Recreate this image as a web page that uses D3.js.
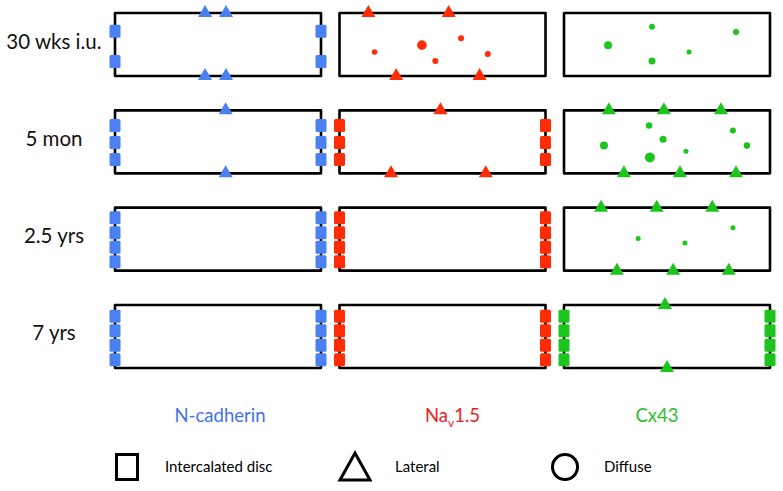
<!DOCTYPE html>
<html>
<head>
<meta charset="utf-8">
<script src="https://cdn.jsdelivr.net/npm/d3@7"></script>
<style>
  html, body { margin: 0; padding: 0; background: #fff; }
  svg { display: block; }
  text { font-family: Lato, "Open Sans", sans-serif; }
</style>
</head>
<body>
<script>
// ---------- data ----------
const ages = ["30 wks i.u.", "5 mon", "2.5 yrs", "7 yrs"];
const proteins = ["N-cadherin", "Nav1.5", "Cx43"];

// Intercalated disc marks (squares at both cell ends): [age, protein, y fraction]
const discMarks = [
  ["30 wks i.u.", "N-cadherin", 0.29], ["30 wks i.u.", "N-cadherin", 0.77],
  ["5 mon", "N-cadherin", 0.24], ["5 mon", "N-cadherin", 0.51], ["5 mon", "N-cadherin", 0.78],
  ["5 mon", "Nav1.5", 0.24], ["5 mon", "Nav1.5", 0.51], ["5 mon", "Nav1.5", 0.78],
  ["2.5 yrs", "N-cadherin", 0.16], ["2.5 yrs", "N-cadherin", 0.40], ["2.5 yrs", "N-cadherin", 0.63], ["2.5 yrs", "N-cadherin", 0.86],
  ["2.5 yrs", "Nav1.5", 0.16], ["2.5 yrs", "Nav1.5", 0.40], ["2.5 yrs", "Nav1.5", 0.63], ["2.5 yrs", "Nav1.5", 0.86],
  ["7 yrs", "N-cadherin", 0.18], ["7 yrs", "N-cadherin", 0.41], ["7 yrs", "N-cadherin", 0.64], ["7 yrs", "N-cadherin", 0.87],
  ["7 yrs", "Nav1.5", 0.18], ["7 yrs", "Nav1.5", 0.41], ["7 yrs", "Nav1.5", 0.64], ["7 yrs", "Nav1.5", 0.87],
  ["7 yrs", "Cx43", 0.18], ["7 yrs", "Cx43", 0.41], ["7 yrs", "Cx43", 0.64], ["7 yrs", "Cx43", 0.87]
];

// Lateral marks (triangles on the long membrane): [age, protein, side, x fraction]
const lateralMarks = [
  ["30 wks i.u.", "N-cadherin", "top", 0.437], ["30 wks i.u.", "N-cadherin", "top", 0.539],
  ["30 wks i.u.", "N-cadherin", "bottom", 0.437], ["30 wks i.u.", "N-cadherin", "bottom", 0.539],
  ["30 wks i.u.", "Nav1.5", "top", 0.14], ["30 wks i.u.", "Nav1.5", "top", 0.53],
  ["30 wks i.u.", "Nav1.5", "bottom", 0.275], ["30 wks i.u.", "Nav1.5", "bottom", 0.68],
  ["5 mon", "N-cadherin", "top", 0.537], ["5 mon", "N-cadherin", "bottom", 0.537],
  ["5 mon", "Nav1.5", "top", 0.49],
  ["5 mon", "Nav1.5", "bottom", 0.25], ["5 mon", "Nav1.5", "bottom", 0.71],
  ["5 mon", "Cx43", "top", 0.218], ["5 mon", "Cx43", "top", 0.485], ["5 mon", "Cx43", "top", 0.762],
  ["5 mon", "Cx43", "bottom", 0.291], ["5 mon", "Cx43", "bottom", 0.563], ["5 mon", "Cx43", "bottom", 0.835],
  ["2.5 yrs", "Cx43", "top", 0.18], ["2.5 yrs", "Cx43", "top", 0.45], ["2.5 yrs", "Cx43", "top", 0.72],
  ["2.5 yrs", "Cx43", "bottom", 0.257], ["2.5 yrs", "Cx43", "bottom", 0.53], ["2.5 yrs", "Cx43", "bottom", 0.80],
  ["7 yrs", "Cx43", "top", 0.49], ["7 yrs", "Cx43", "bottom", 0.50]
];

// Diffuse marks (dots inside the cell): [age, protein, x fraction, y fraction, radius]
const diffuseMarks = [
  ["30 wks i.u.", "Nav1.5", 0.17, 0.62, 2.8], ["30 wks i.u.", "Nav1.5", 0.40, 0.51, 4.8],
  ["30 wks i.u.", "Nav1.5", 0.59, 0.40, 3], ["30 wks i.u.", "Nav1.5", 0.465, 0.76, 3],
  ["30 wks i.u.", "Nav1.5", 0.72, 0.65, 3],
  ["30 wks i.u.", "Cx43", 0.214, 0.51, 4], ["30 wks i.u.", "Cx43", 0.427, 0.22, 3],
  ["30 wks i.u.", "Cx43", 0.427, 0.76, 3.5], ["30 wks i.u.", "Cx43", 0.607, 0.62, 2.5],
  ["30 wks i.u.", "Cx43", 0.835, 0.30, 3],
  ["5 mon", "Cx43", 0.413, 0.24, 3.3], ["5 mon", "Cx43", 0.194, 0.56, 4],
  ["5 mon", "Cx43", 0.481, 0.46, 3.5], ["5 mon", "Cx43", 0.417, 0.75, 5],
  ["5 mon", "Cx43", 0.592, 0.65, 2.5], ["5 mon", "Cx43", 0.82, 0.32, 3],
  ["5 mon", "Cx43", 0.888, 0.56, 3.3],
  ["2.5 yrs", "Cx43", 0.36, 0.49, 2.5], ["2.5 yrs", "Cx43", 0.587, 0.56, 2.5],
  ["2.5 yrs", "Cx43", 0.82, 0.32, 2.5]
];

const legendItems = ["Intercalated disc", "Lateral", "Diffuse"];

// ---------- styles ----------
const markColor = { "N-cadherin": "#4a80ef", "Nav1.5": "#ff2c06", "Cx43": "#1ec41e" };
const labelColor = { "N-cadherin": "#4472e6", "Nav1.5": "#ee1c24", "Cx43": "#2cc12c" };

const W = 783, H = 491;
const svg = d3.select("body").append("svg").attr("width", W).attr("height", H);

const x = d3.scaleBand().domain(proteins).range([115, 770]).paddingInner(0.0824);
const y = d3.scaleBand().domain(ages).range([13, 368]).paddingInner(0.3527);
const fx = d3.scaleLinear().domain([0, 1]).range([0, x.bandwidth()]);
const fy = d3.scaleLinear().domain([0, 1]).range([0, y.bandwidth()]);

// panels
const panels = [];
ages.forEach(a => proteins.forEach(p => panels.push({ a, p })));

svg.append("g").selectAll("rect").data(panels).join("rect")
  .attr("x", d => x(d.p)).attr("y", d => y(d.a))
  .attr("width", x.bandwidth()).attr("height", y.bandwidth())
  .attr("fill", "none").attr("stroke", "#000").attr("stroke-width", 2.6)
  .attr("stroke-linejoin", "round");

// disc squares at both ends
const sqW = 11, sqH = 13;
const discs = [];
discMarks.forEach(([a, p, f]) => {
  discs.push({ a, p, f, side: 0 });
  discs.push({ a, p, f, side: 1 });
});
svg.append("g").selectAll("rect").data(discs).join("rect")
  .attr("x", d => x(d.p) + (d.side ? x.bandwidth() : 0) - sqW / 2)
  .attr("y", d => y(d.a) + fy(d.f) - sqH / 2)
  .attr("width", sqW).attr("height", sqH).attr("rx", 1.5)
  .attr("fill", d => markColor[d.p]);

// lateral triangles
const triW = 14, triH = 12, triBelow = 4;
svg.append("g").selectAll("path").data(lateralMarks).join("path")
  .attr("d", ([a, p, side, f]) => {
    const cx = x(p) + fx(f);
    const base = y(a) + (side === "top" ? 0 : y.bandwidth()) + triBelow;
    return `M${cx - triW / 2},${base}L${cx + triW / 2},${base}L${cx},${base - triH}Z`;
  })
  .attr("fill", d => markColor[d[1]]);

// diffuse dots
svg.append("g").selectAll("circle").data(diffuseMarks).join("circle")
  .attr("cx", d => x(d[1]) + fx(d[2]))
  .attr("cy", d => y(d[0]) + fy(d[3]))
  .attr("r", d => d[4])
  .attr("fill", d => markColor[d[1]]);

// row labels
svg.append("g").selectAll("text").data(ages).join("text")
  .attr("x", 54).attr("y", d => y(d) + y.bandwidth() / 2 + 4)
  .attr("text-anchor", "middle").attr("font-size", 20.5).attr("fill", "#111")
  .text(d => d);

// column labels
const colLabels = svg.append("g").selectAll("text").data(proteins).join("text")
  .attr("x", d => x(d) + x.bandwidth() / 2 + (d === "Cx43" ? -10 : (d === "Nav1.5" ? 10 : 2)))
  .attr("y", 422)
  .attr("text-anchor", "middle").attr("font-size", 18.5)
  .attr("fill", d => labelColor[d]);
colLabels.each(function (d) {
  const t = d3.select(this);
  if (d === "Nav1.5") {
    t.append("tspan").text("Na");
    t.append("tspan").attr("font-size", 12).attr("dy", 5).text("v");
    t.append("tspan").attr("dy", -5).text("1.5");
  } else {
    t.text(d);
  }
});

// legend
const lg = svg.append("g");
const legX = [127, 355, 565];
const legTextX = [165, 395, 604];
const legY = 467;
lg.append("rect").attr("x", legX[0] - 10.5).attr("y", legY - 12.5).attr("width", 21).attr("height", 25)
  .attr("fill", "#fff").attr("stroke", "#000").attr("stroke-width", 3);
lg.append("path")
  .attr("d", `M${legX[1] - 15},${legY + 13}L${legX[1] + 15},${legY + 13}L${legX[1]},${legY - 14}Z`)
  .attr("fill", "#fff").attr("stroke", "#000").attr("stroke-width", 3).attr("stroke-linejoin", "miter");
lg.append("circle").attr("cx", legX[2]).attr("cy", legY).attr("r", 12.5)
  .attr("fill", "#fff").attr("stroke", "#000").attr("stroke-width", 3);
lg.selectAll("text").data(legendItems).join("text")
  .attr("x", (d, i) => legTextX[i]).attr("y", legY + 5)
  .attr("font-size", 15).attr("fill", "#000")
  .text(d => d);
</script>
</body>
</html>
